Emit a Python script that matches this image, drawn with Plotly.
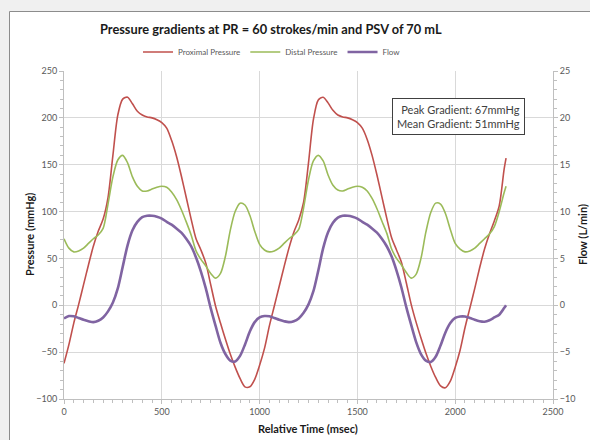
import plotly.graph_objects as go

time_ms = [0, 25, 50, 75, 100, 125, 150, 175, 200, 225, 250, 275, 300, 325, 350, 375, 400, 425, 450, 475,
           500, 525, 550, 575, 600, 625, 650, 675, 700, 725, 750, 775, 800, 825, 850, 875, 900, 925, 950, 975,
           1000, 1025, 1050, 1075, 1100, 1125, 1150, 1175, 1200, 1225, 1250, 1275, 1300, 1325, 1350, 1375,
           1400, 1425, 1450, 1475, 1500, 1525, 1550, 1575, 1600, 1625, 1650, 1675, 1700, 1725, 1750, 1775,
           1800, 1825, 1850, 1875, 1900, 1925, 1950, 1975, 2000, 2025, 2050, 2075, 2100, 2125, 2150, 2175,
           2200, 2225, 2250, 2260]

proximal_pressure = [-62, -42, -19, 1, 22, 43, 63, 79, 92, 115, 160, 203, 220, 222, 215, 207, 203, 201, 200, 198,
                     195, 189, 176, 159, 138, 115, 92, 71, 59, 45, 22, -1, -19, -36, -52, -66, -78, -87, -87, -79,
                     -64, -46, -22, -1, 20, 41, 61, 78, 91, 110, 152, 198, 219, 222, 216, 208, 203, 201, 200, 198,
                     195, 189, 177, 160, 139, 116, 93, 72, 59, 46, 24, 1, -18, -35, -51, -65, -77, -86, -88, -81,
                     -66, -48, -24, -3, 18, 40, 60, 76, 90, 106, 145, 157]

distal_pressure = [71, 61, 57, 58, 61, 66, 71, 75, 82, 108, 137, 155, 160, 152, 137, 127, 122, 122, 124, 126,
                   127, 126, 121, 113, 102, 89, 75, 58, 49, 42, 34, 29, 34, 52, 80, 100, 109, 107, 96, 79,
                   65, 59, 57, 58, 61, 66, 71, 75, 81, 104, 134, 154, 160, 154, 139, 128, 123, 122, 124, 126,
                   127, 126, 122, 114, 103, 90, 77, 60, 50, 43, 35, 29, 33, 50, 78, 99, 109, 108, 98, 81,
                   66, 60, 57, 58, 61, 66, 71, 76, 84, 100, 120, 127]

flow_lpm = [-1.4, -1.15, -1.18, -1.35, -1.55, -1.7, -1.8, -1.65, -1.3, -0.65, 0.3, 1.8, 4.1, 6.4, 8.0, 8.9,
            9.4, 9.55, 9.55, 9.45, 9.25, 8.9, 8.6, 8.2, 7.75, 7.1, 6.3, 5.1, 3.6, 1.8, -0.3, -2.2, -4.0, -5.2,
            -5.9, -6.0, -5.4, -4.2, -2.8, -1.8, -1.3, -1.15, -1.18, -1.35, -1.55, -1.7, -1.8, -1.7, -1.4, -0.8,
            0.1, 1.5, 3.7, 6.1, 7.8, 8.8, 9.35, 9.55, 9.55, 9.45, 9.25, 8.9, 8.6, 8.2, 7.75, 7.1, 6.3, 5.2,
            3.7, 1.9, -0.2, -2.1, -3.9, -5.2, -5.9, -6.05, -5.5, -4.3, -2.9, -1.9, -1.35, -1.2, -1.2, -1.35,
            -1.55, -1.7, -1.75, -1.6, -1.3, -1.0, -0.3, 0.0]

x_ticks = [0, 500, 1000, 1500, 2000, 2500]
pressure_ticks = [-100, -50, 0, 50, 100, 150, 200, 250]
flow_ticks = [-10, -5, 0, 5, 10, 15, 20, 25]
notes = ["Peak Gradient: 67mmHg", "Mean Gradient: 51mmHg"]
title_text = "Pressure gradients at PR = 60 strokes/min and PSV of 70 mL"
x_title = "Relative Time (msec)"
y_title = "Pressure (mmHg)"
y2_title = "Flow (L/min)"

FONT = "Lato"
TXT = "#595959"
DARK = "#1a1a1a"
GRID = "#d9d9d9"
AXL = "#bfbfbf"
BG = "#f0f0f0"

fig = go.Figure()
fig.add_trace(go.Scatter(x=time_ms, y=proximal_pressure, name="Proximal Pressure", mode="lines",
                         line=dict(color="#c0504d", width=1.6, shape="spline", smoothing=0.8)))
fig.add_trace(go.Scatter(x=time_ms, y=distal_pressure, name="Distal Pressure", mode="lines",
                         line=dict(color="#9bbb59", width=1.6, shape="spline", smoothing=0.8)))
fig.add_trace(go.Scatter(x=time_ms, y=flow_lpm, name="Flow", mode="lines", yaxis="y2",
                         line=dict(color="#8064a2", width=2.6, shape="spline", smoothing=0.8)))

W, H = 590, 440
L, R, T, B = 64, 37, 71, 41
pw, ph = W - L - R, H - T - B

def px(xp):
    return (xp - L) / pw

def py(yp):
    return (H - B - yp) / ph

fig.add_shape(type="rect", xref="paper", yref="paper", x0=px(9.5), x1=px(600), y0=py(450), y1=py(11.5),
              line=dict(color="#8c8c8c", width=1), fillcolor="white", layer="below")

fig.add_annotation(xref="paper", yref="paper", x=px(525), y=py(98), xanchor="right", yanchor="top",
                   text="<br>".join(notes), align="right", showarrow=False,
                   font=dict(family=FONT, size=11, color="#404040"),
                   bordercolor="#404040", borderwidth=1, borderpad=4, bgcolor="white")

fig.add_annotation(xref="paper", yref="paper", x=px(271), y=py(29), xanchor="center", yanchor="middle",
                   text="<b>" + title_text + "</b>", showarrow=False,
                   font=dict(family=FONT, size=12.8, color=DARK))
fig.add_annotation(xref="paper", yref="paper", x=px(308), y=py(428), xanchor="center", yanchor="middle",
                   text="<b>" + x_title + "</b>", showarrow=False,
                   font=dict(family=FONT, size=11, color=DARK))
fig.add_annotation(xref="paper", yref="paper", x=px(29), y=py(235), xanchor="center", yanchor="middle",
                   text="<b>" + y_title + "</b>", showarrow=False, textangle=-90,
                   font=dict(family=FONT, size=11, color=DARK))
fig.add_annotation(xref="paper", yref="paper", x=px(582), y=py(235), xanchor="center", yanchor="middle",
                   text="<b>" + y2_title + "</b>", showarrow=False, textangle=-90,
                   font=dict(family=FONT, size=11, color=DARK))

fig.update_layout(
    width=W, height=H,
    margin=dict(l=L, r=R, t=T, b=B, autoexpand=False),
    paper_bgcolor=BG, plot_bgcolor="white",
    font=dict(family=FONT, color=TXT, size=9),
    legend=dict(orientation="h", xref="paper", x=px(272), xanchor="center", yref="paper", y=py(52),
                yanchor="middle", font=dict(family=FONT, size=8, color=TXT), bgcolor="rgba(0,0,0,0)",
                itemwidth=30, tracegroupgap=0),
    xaxis=dict(range=[0, 2500], tickvals=x_ticks, showgrid=True, gridcolor=GRID, zeroline=False,
               showline=True, linecolor=AXL, ticks="outside", ticklen=4, tickcolor=AXL,
               minor=dict(dtick=50, ticks="outside", ticklen=3, tickcolor=AXL, showgrid=False)),
    yaxis=dict(range=[-100, 250], tickvals=pressure_ticks, showgrid=True, gridcolor=GRID, zeroline=False,
               showline=True, linecolor=AXL, ticks="outside", ticklen=4, tickcolor=AXL,
               minor=dict(dtick=10, ticks="outside", ticklen=3, tickcolor=AXL, showgrid=False)),
    yaxis2=dict(range=[-10, 25], tickvals=flow_ticks, overlaying="y", side="right", showgrid=False,
                zeroline=False, showline=True, linecolor=AXL, ticks="outside", ticklen=4, tickcolor=AXL,
                minor=dict(dtick=1, ticks="outside", ticklen=3, tickcolor=AXL, showgrid=False)),
)

page_css = ("document.body.style.margin='0';document.body.style.padding='0';"
            "document.body.style.background='" + BG + "';document.body.style.overflow='hidden';")
fig.write_html("out.html", post_script=page_css, config={"displayModeBar": False})
